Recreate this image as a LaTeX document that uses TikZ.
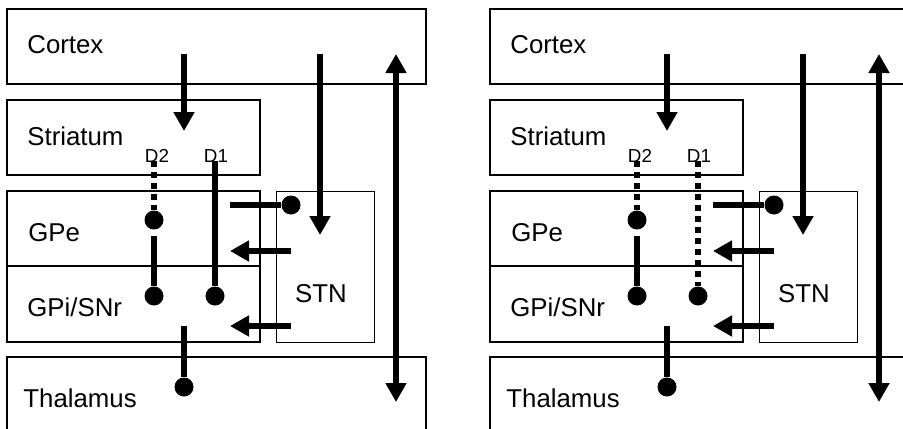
\documentclass[tikz,border=0pt]{standalone}
\usepackage{fontspec}
\setmainfont{Liberation Sans}
\usetikzlibrary{arrows.meta}

\tikzset{
  region/.style={line width=1pt},
  thinregion/.style={line width=0.5pt},
  lbl/.style={anchor=base west, inner sep=0pt, font=\fontsize{12.9}{15}\selectfont},
  rcpt/.style={anchor=base, inner sep=0pt, font=\fontsize{9.4}{11}\selectfont},
  fibre/.style={line width=3.2pt},
  dotfibre/.style={line width=3pt, dash pattern=on 3pt off 2.5pt},
  excite/.style={fibre, -{Triangle[width=10pt,length=9.5pt]}},
  twoway/.style={fibre, {Triangle[width=10pt,length=9.5pt]}-{Triangle[width=10pt,length=9.5pt]}},
  knob/.style={circle, fill, inner sep=0pt, minimum size=9.5pt},
}

\begin{document}
\begin{tikzpicture}[x=0.5pt, y=-0.5pt]
\clip (0,0) rectangle (903,428);
\foreach \p/\dx/\dfib in {a/0/fibre, b/483/dotfibre}{
\begin{scope}[xshift=\dx*0.5pt]
% regions
\draw[region] (7,9) rectangle (426,84);
\draw[region] (7,100) rectangle (260,175);
\draw[region] (7,191) rectangle (260,266);
\draw[region] (7,266) rectangle (260,342);
\draw[thinregion] (276,191) rectangle (374,342);
\draw[region] (7,357) rectangle (426,440);
\node[lbl] (cortex\p) at (27,53) {Cortex};
\node[lbl] (striatum\p) at (27,145) {Striatum};
\node[lbl] (gpe\p) at (28,241) {GPe};
\node[lbl] (gpi\p) at (27,316) {GPi/SNr};
\node[lbl] (thalamus\p) at (23,407) {Thalamus};
\node[lbl, anchor=base] (stn\p) at (321,302) {STN};
\node[rcpt] (dtwo\p) at (157,162) {D2};
\node[rcpt] (done\p) at (216,162) {D1};
% end points of the pathways
\coordinate (ctxS\p) at (184,54);
\coordinate (strIn\p) at (184,131);
\coordinate (ctxH\p) at (320,54);
\coordinate (stnIn\p) at (320,235);
\coordinate (loopTop\p) at (396,54);
\coordinate (loopBot\p) at (396,402);
\coordinate (dtwoOut\p) at (154,161);
\coordinate (gpeOut\p) at (154,236);
\coordinate (doneOut\p) at (215,161);
\coordinate (gpeToStn\p) at (230,205);
\coordinate (stnUp\p) at (291,251);
\coordinate (gpeIn\p) at (230,251);
\coordinate (stnDown\p) at (291,326);
\coordinate (gpiIn\p) at (230,326);
\coordinate (gpiOut\p) at (184,326);
\node[knob] (kGpe\p) at (154,220) {};
\node[knob] (kGpiTwo\p) at (154,296) {};
\node[knob] (kGpiOne\p) at (215,296) {};
\node[knob] (kStn\p) at (291,205) {};
\node[knob] (kThal\p) at (184,387) {};
% pathways
\draw[excite] (ctxS\p) -- (strIn\p);
\draw[excite] (ctxH\p) -- (stnIn\p);
\draw[twoway] (loopTop\p) -- (loopBot\p);
\draw[dotfibre] (dtwoOut\p) -- (kGpe\p);
\draw[fibre] (gpeOut\p) -- (kGpiTwo\p);
\draw[\dfib] (doneOut\p) -- (kGpiOne\p);
\draw[fibre] (gpeToStn\p) -- (kStn\p);
\draw[excite] (stnUp\p) -- (gpeIn\p);
\draw[excite] (stnDown\p) -- (gpiIn\p);
\draw[fibre] (gpiOut\p) -- (kThal\p);
\end{scope}
}
\end{tikzpicture}
\end{document}
